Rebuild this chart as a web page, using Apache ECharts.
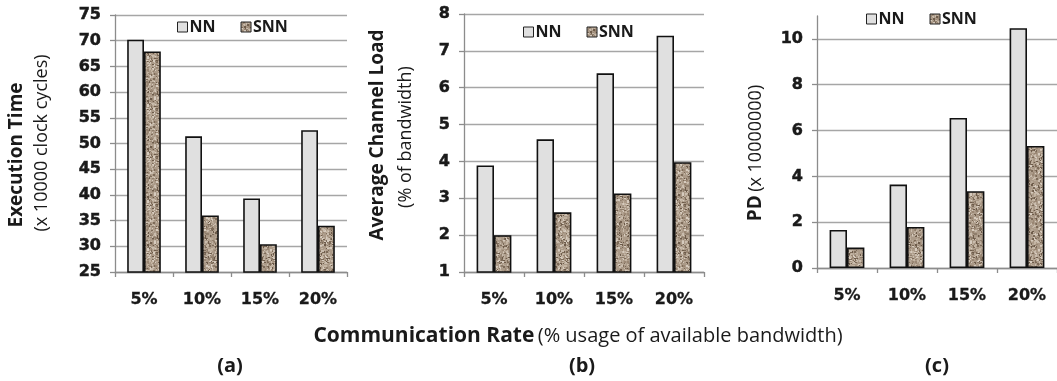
<!DOCTYPE html>
<html><head><meta charset="utf-8">
<script src="https://cdn.jsdelivr.net/npm/echarts@6/dist/echarts.min.js"></script>
<style>html,body{margin:0;padding:0;background:#fff}#c{width:1057px;height:381px}</style>
</head><body><div id="c"></div>
<script>
const categories = ['5%', '10%', '15%', '20%'];
const seriesNames = ['NN', 'SNN'];
const execNN = [70.2, 51.4, 39.3, 52.6];
const execSNN = [67.9, 36.0, 30.4, 34.0];
const loadNN = [3.89, 4.6, 6.39, 7.41];
const loadSNN = [2.0, 2.62, 3.13, 3.98];
const pdNN = [1.66, 3.64, 6.55, 10.47];
const pdSNN = [0.89, 1.79, 3.35, 5.33];
const yTitlesBold = ['Execution Time', 'Average Channel Load', 'PD'];
const yTitlesReg = ['(x 10000 clock cycles)', '(% of bandwidth)', '(x 10000000)'];
const xTitleBold = 'Communication Rate';
const xTitleReg = '(% usage of available bandwidth)';
const panelLabels = ['(a)', '(b)', '(c)'];

// granite-like texture for SNN bars (deterministic)
function makeTexture() {
  const cv = document.createElement('canvas');
  cv.width = 48; cv.height = 48;
  const g = cv.getContext('2d');
  g.fillStyle = '#ab9a88';
  g.fillRect(0, 0, 48, 48);
  let s = 12345;
  const rnd = () => { s = (s * 1103515245 + 12345) % 2147483648; return s / 2147483648; };
  const cols = ['#7d6b59', '#8f7e6c', '#c9bcad', '#b8a998', '#6d5b4a', '#d6cbbe', '#9a8774', '#c3b4a2'];
  for (let i = 0; i < 900; i++) {
    g.fillStyle = cols[Math.floor(rnd() * cols.length)];
    const w = 1 + Math.floor(rnd() * 2), h = 1 + Math.floor(rnd() * 2);
    g.fillRect(Math.floor(rnd() * 48), Math.floor(rnd() * 48), w, h);
  }
  return cv;
}
const tex = makeTexture();
const snnColor = { image: tex, repeat: 'repeat' };
const nnColor = '#e0e0e0';

const tickFont = { fontFamily: 'DejaVu Sans', fontWeight: 'bold', fontSize: 16, color: '#1a1a1a',
  textBorderColor: '#1a1a1a', textBorderWidth: 0.5 };

const grids = [
  { left: 115, top: 15, width: 232, height: 257 },
  { left: 464, top: 14, width: 240, height: 258 },
  { left: 817, top: 16, width: 240, height: 252 }
];
const yCfg = [
  { min: 25, max: 75, interval: 5 },
  { min: 1, max: 8, interval: 1 },
  { min: 0, max: 11, interval: 2 }
];
const dataSets = [[execNN, execSNN], [loadNN, loadSNN], [pdNN, pdSNN]];

const xAxes = grids.map((g, i) => ({
  type: 'category', gridIndex: i, data: categories,
  axisLine: { lineStyle: { color: '#8c8c8c', width: 1.3 } },
  axisTick: { show: true, length: 5, alignWithLabel: false, lineStyle: { color: '#8c8c8c', width: 1.3 } },
  axisLabel: Object.assign({ margin: 20 }, tickFont, { textBorderWidth: 0.3 })
}));
const yAxes = yCfg.map((c, i) => ({
  type: 'value', gridIndex: i, min: c.min, max: c.max, interval: c.interval,
  axisLine: { show: true, lineStyle: { color: '#8c8c8c', width: 1.3 } },
  axisTick: { show: true, length: 5, lineStyle: { color: '#8c8c8c', width: 1.3 } },
  splitLine: { show: true, showMaxLine: i !== 2, lineStyle: { color: '#a6a6a6', width: 1.3 } },
  axisLabel: Object.assign({ margin: 14, showMaxLabel: i !== 2 }, tickFont)
}));

const series = [];
dataSets.forEach((pair, i) => {
  pair.forEach((vals, k) => {
    series.push({
      type: 'bar', name: seriesNames[k], xAxisIndex: i, yAxisIndex: i,
      data: vals, barGap: '0%', barCategoryGap: '42%',
      itemStyle: { color: k === 0 ? nnColor : snnColor, borderColor: '#111', borderWidth: 1.6 },
      emphasis: { disabled: true }
    });
  });
});

const legendPos = [{ left: 177, top: 19 }, { left: 523, top: 24 }, { left: 866, top: 11 }];
const legends = legendPos.map(p => ({
  left: p.left, top: p.top, data: seriesNames, icon: 'rect',
  itemWidth: 10, itemHeight: 10, itemGap: 25, padding: 0,
  itemStyle: { borderColor: '#222', borderWidth: 1 },
  textStyle: { fontFamily: 'Open Sans', fontWeight: 'bold', fontSize: 16, color: '#1a1a1a', padding: [0, 0, 0, -3] }
}));

const rich = {
  b: { fontFamily: 'Open Sans', fontWeight: 'bold', fontSize: 19, fill: '#1a1a1a' },
  r: { fontFamily: 'Open Sans', fontWeight: 'normal', fontSize: 18, fill: '#1a1a1a' }
};
const richX = {
  b: { fontFamily: 'Open Sans', fontWeight: 'bold', fontSize: 21, fill: '#1a1a1a' },
  r: { fontFamily: 'Open Sans', fontWeight: 'normal', fontSize: 20, fill: '#1a1a1a' }
};
function vText(x, y, str, style) {
  return { type: 'text', x: x, y: y, rotation: Math.PI / 2,
    style: Object.assign({ text: str, align: 'center', verticalAlign: 'middle', fill: '#1a1a1a' }, style) };
}
function panel(x, str) {
  return { type: 'text', x: x, y: 366, style: { text: str, font: 'bold 20px "Open Sans"', fill: '#1a1a1a', align: 'center', verticalAlign: 'middle' } };
}
const graphics = [
  vText(17, 155, yTitlesBold[0], { font: 'bold 19px "Open Sans"' }),
  vText(42, 143, yTitlesReg[0], { font: '18px "Open Sans"' }),
  vText(378, 135, yTitlesBold[1], { font: 'bold 19px "Open Sans"' }),
  vText(406, 137, yTitlesReg[1], { font: '18px "Open Sans"' }),
  vText(756, 153, '{b|' + yTitlesBold[2] + '} {r|' + yTitlesReg[2] + '}', { rich: rich }),
  { type: 'text', x: 578, y: 336, style: { text: '{b|' + xTitleBold + '} {r|' + xTitleReg + '}', rich: richX, align: 'center', verticalAlign: 'middle' } },
  panel(230, panelLabels[0]),
  panel(582, panelLabels[1]),
  panel(937, panelLabels[2])
];

const chart = echarts.init(document.getElementById('c'), null, { renderer: 'canvas' });
chart.setOption({
  animation: false,
  backgroundColor: '#ffffff',
  grid: grids,
  xAxis: xAxes,
  yAxis: yAxes,
  legend: legends,
  series: series,
  graphic: graphics
});
</script>
</body></html>
